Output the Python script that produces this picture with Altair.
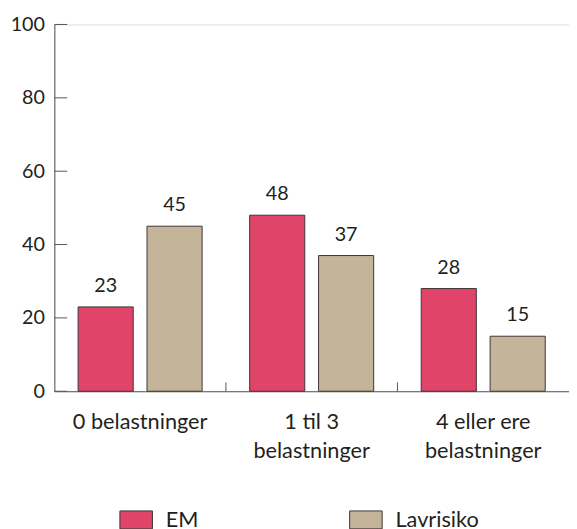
import altair as alt
import pandas as pd

categories = ["0 belastninger", "1 til 3 belastninger", "4 eller ere belastninger"]
series = ["EM", "Lavrisiko"]
em_values = [23, 48, 28]
lav_values = [45, 37, 15]
y_ticks = [0, 20, 40, 60, 80, 100]

rows = []
for c, e, l in zip(categories, em_values, lav_values):
    rows.append({"cat": c, "serie": "EM", "value": e})
    rows.append({"cat": c, "serie": "Lavrisiko", "value": l})
df = pd.DataFrame(rows)
ticks_df = pd.DataFrame({"t": y_ticks})
bounds_df = pd.DataFrame({"cat": categories[1:]})

FONT = "Lato"
TXT = "#231f20"
AX = "#555555"
H = 372

label_expr = (
    "datum.value == '0 belastninger' ? '0 belastninger' : "
    "datum.value == '1 til 3 belastninger' ? ['1 til 3', 'belastninger'] : "
    "['4 eller ere', 'belastninger']"
)

x_enc = alt.X(
    "cat:N",
    sort=categories,
    title=None,
    scale=alt.Scale(paddingInner=0, paddingOuter=0),
    axis=alt.Axis(
        labelAngle=0,
        ticks=False,
        domainColor=AX,
        domainWidth=1,
        labelFont=FONT,
        labelFontSize=22,
        labelColor=TXT,
        labelPadding=38,
        labelLineHeight=29,
        labelExpr=label_expr,
        labelBaseline="alphabetic",
    ),
)
y_scale = alt.Scale(domain=[0, 100], nice=False)

bars = alt.Chart(df).mark_bar(stroke="#3d3535", strokeWidth=1).encode(
    x=x_enc,
    xOffset=alt.XOffset(
        "serie:N",
        sort=series,
        scale=alt.Scale(paddingInner=0.2, paddingOuter=0.345),
    ),
    y=alt.Y(
        "value:Q",
        scale=y_scale,
        title=None,
        axis=alt.Axis(
            values=y_ticks,
            ticks=False,
            grid=False,
            domainColor=AX,
            domainWidth=1,
            labelFont=FONT,
            labelFontSize=20,
            labelColor=TXT,
            labelPadding=10,
        ),
    ),
    color=alt.Color(
        "serie:N",
        sort=series,
        scale=alt.Scale(domain=series, range=["#E04468", "#C4B49A"]),
        legend=alt.Legend(
            title=None,
            orient="none",
            direction="horizontal",
            legendX=66,
            legendY=485,
            symbolType="M-1,-0.55H1V0.55H-1Z",
            symbolSize=1089,
            symbolStrokeColor="#3d3535",
            symbolStrokeWidth=1,
            symbolOpacity=1,
            labelFont=FONT,
            labelFontSize=22,
            labelColor=TXT,
            labelOffset=13,
            columnPadding=150,
        ),
    ),
)

text = alt.Chart(df).mark_text(
    font=FONT, fontSize=20, color=TXT, baseline="alphabetic", dy=-15
).encode(
    x=alt.X("cat:N", sort=categories),
    xOffset=alt.XOffset("serie:N", sort=series),
    y=alt.Y("value:Q", scale=y_scale),
    text=alt.Text("value:Q"),
)

ytick_rules = alt.Chart(ticks_df).mark_rule(color=AX, strokeWidth=1).encode(
    y=alt.Y("t:Q", scale=y_scale),
    x=alt.value(0),
    x2=alt.value(13),
)

xtick_rules = alt.Chart(bounds_df).mark_rule(color=AX, strokeWidth=1).encode(
    x=alt.X("cat:N", sort=categories, bandPosition=0),
    y=alt.value(H),
    y2=alt.value(H - 9),
)

chart = (
    alt.layer(bars, text, ytick_rules, xtick_rules)
    .resolve_scale(x="shared")
    .properties(
        width=522,
        height=H,
        autosize=alt.AutoSizeParams(type="none"),
        padding={"left": 47, "top": 13, "right": 0, "bottom": 136},
    )
    .configure_view(stroke=None)
    .configure(background="white")
)

chart.save("out.html", embed_options={"renderer": "svg", "actions": False})
